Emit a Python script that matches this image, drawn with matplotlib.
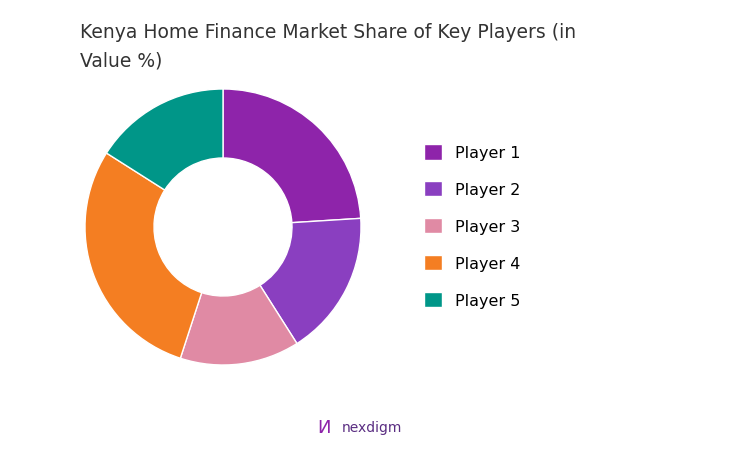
import matplotlib.pyplot as plt

players = ["Player 1", "Player 2", "Player 3", "Player 4", "Player 5"]
shares = [24, 17, 14, 29, 16]
colors = ["#8E24AA", "#8A3FC0", "#E08AA4", "#F47E22", "#009688"]

fig = plt.figure(figsize=(7.46, 4.52), dpi=100)
ax = fig.add_axes([(223 - 138) / 746, 1 - (228 + 138) / 452, 276 / 746, 276 / 452])
wedges, _ = ax.pie(shares, colors=colors, startangle=90, counterclock=False,
                   wedgeprops=dict(width=0.5, edgecolor="white", linewidth=1))
ax.set_xlim(-1, 1)
ax.set_ylim(-1, 1)
ax.set_aspect("equal")

fig.text(80 / 746, 1 - 47 / 452, "Kenya Home Finance Market Share of Key Players (in\nValue %)",
         fontsize=13.5, color="#333333", va="center", ha="left", linespacing=1.6)

fig.legend(wedges, players, loc="center left", bbox_to_anchor=(410 / 746, 1 - 227 / 452),
           frameon=False, fontsize=11.5, handlelength=1.1, handleheight=1.1,
           labelspacing=1.3, handletextpad=0.8)

fig.text(342 / 746, 1 - 428 / 452, "nexdigm", fontsize=10, color="#5a2d82",
         ha="left", va="center")
fig.text(324 / 746, 1 - 428 / 452, "\u0418", fontsize=13, color="#8E24AA",
         ha="center", va="center")

fig.savefig("out.png", dpi=100)
